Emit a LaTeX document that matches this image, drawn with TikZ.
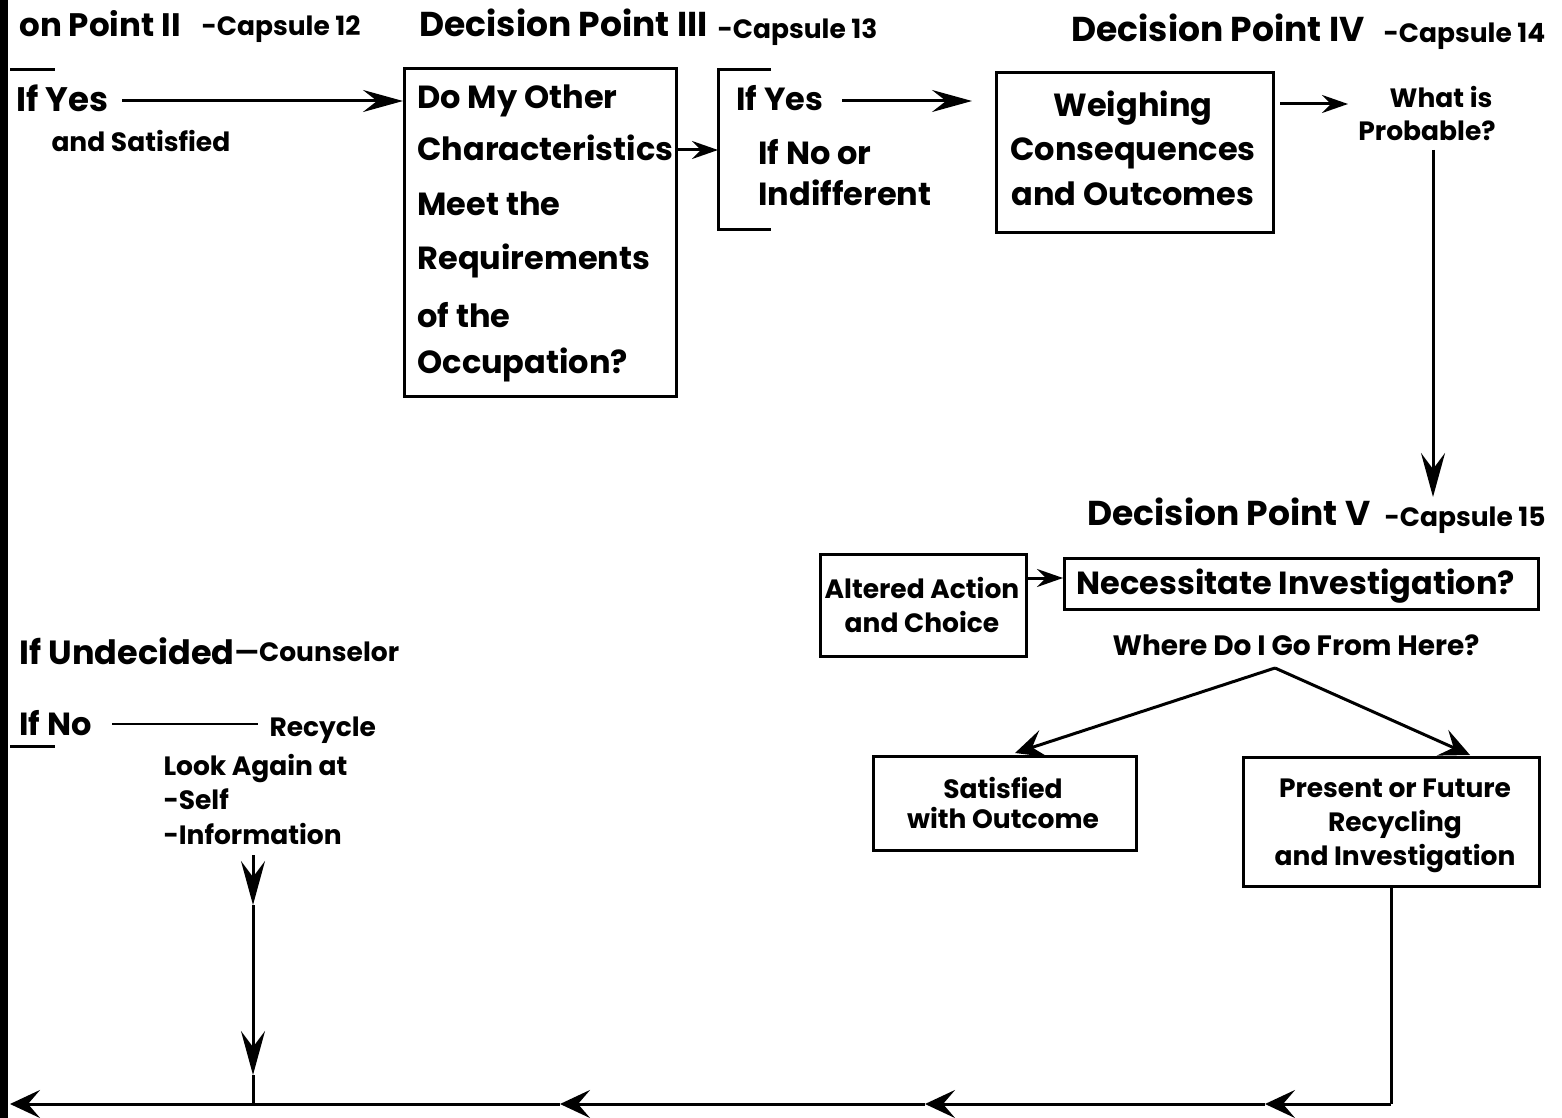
\documentclass[tikz,border=0pt]{standalone}
\usepackage{fontspec}
\setmainfont{Poppins}
\usetikzlibrary{arrows.meta}
\begin{document}
\begin{tikzpicture}[x=1pt,y=-1pt,line width=3pt,
  big/.style={font=\fontsize{32}{36}\selectfont\bfseries,inner sep=0pt},
  head/.style={font=\fontsize{34.5}{38}\selectfont\bfseries,inner sep=0pt},
  med/.style={font=\fontsize{26.5}{30}\selectfont\bfseries,inner sep=0pt},
  box/.style={draw,line width=2.6pt,inner sep=0pt},
  tipL/.style={-{Stealth[length=40pt,width=22pt,inset=14pt]}},
  tipS/.style={-{Stealth[length=26pt,width=18pt,inset=9pt]}},
  tipB/.style={-{Stealth[length=30pt,width=28pt,inset=12pt]}},
  tipV/.style={-{Stealth[length=44pt,width=24pt,inset=16pt]}},
]
\useasboundingbox (0,0) rectangle (1562,1118);
\fill[black] (0,0) rectangle (8,1118);

% headers
\node[head,anchor=base west,font=\fontsize{32.5}{36}\selectfont\bfseries] (h2) at (18,37) {on Point II};
\node[med,anchor=base west] (c12) at (200,36) {-Capsule 12};
\node[head,anchor=base west] (h3) at (418,37) {Decision Point III};
\node[med,anchor=base west] (c13) at (716,39) {-Capsule 13};
\node[head,anchor=base west] (h4) at (1070,42) {Decision Point IV};
\node[med,anchor=base west] (c14) at (1382,43) {-Capsule 14};
\node[head,anchor=base west] (h5) at (1086,525) {Decision Point V};
\node[med,anchor=base west] (c15) at (1383,526) {-Capsule 15};

% left column
\node[big,anchor=base west,font=\fontsize{34}{38}\selectfont\bfseries] (ifyes1) at (15,112) {If Yes};
\node[med,anchor=base west] (andsat) at (50,152) {and Satisfied};
\draw (10,70) -- (55,70);
\node[big,anchor=base west,font=\fontsize{33.5}{38}\selectfont\bfseries] (undec) at (18,664) {If Undecided};
\node[med,anchor=base west] (couns) at (233,661) {—Counselor};
\node[big,anchor=base west] (ifno) at (18,735) {If No};
\draw (10,746) -- (55,746);
\node[med,anchor=base west] (recyc) at (268,736) {Recycle};
\node[med,anchor=base west] (look) at (162,775) {Look Again at};
\node[med,anchor=base west] (self) at (162,809) {-Self};
\node[med,anchor=base west] (info) at (162,844) {-Information};

% question box
\node[box,minimum width=272pt,minimum height=328pt,anchor=north west] (q3box) at (403,67) {};
\node[big,anchor=base west] (q1) at (416,109) {Do My Other};
\node[big,anchor=base west] (q2) at (416,161) {Characteristics};
\node[big,anchor=base west] (q3) at (416,215) {Meet the};
\node[big,anchor=base west] (q4) at (416,269) {Requirements};
\node[big,anchor=base west] (q5) at (416,327) {of the};
\node[big,anchor=base west] (q6) at (416,373) {Occupation?};

% bracket
\coordinate (brT) at (771,70);
\coordinate (brB) at (771,229);
\draw (brT) -- (718,70) -- (718,229) -- (brB);
\coordinate (brIn) at (718,150);
\node[big,anchor=base west] (ifyes2) at (735,111) {If Yes};
\node[big,anchor=base west] (ifnoor) at (757,165) {If No or};
\node[big,anchor=base west] (indiff) at (757,205) {Indifferent};

% weighing
\node[box,minimum width=277pt,minimum height=160pt,anchor=north west] (weigh) at (995,71) {};
\node[big,anchor=base] (w1) at (1133,117) {Weighing};
\node[big,anchor=base] (w2) at (1133,161) {Consequences};
\node[big,anchor=base] (w3) at (1133,205) {and Outcomes};
\node[med,anchor=base] (what) at (1441,108) {What is};
\node[med,anchor=base] (prob) at (1427,141) {Probable?};

% decision V
\node[box,minimum width=206pt,minimum height=102pt,anchor=north west] (alt) at (819,553) {};
\node[med,anchor=base] (alt1) at (922,598) {Altered Action};
\node[med,anchor=base] (alt2) at (922,632) {and Choice};
\node[box,minimum width=474pt,minimum height=51pt,anchor=north west] (nec) at (1063,557) {};
\node[big,anchor=base west] (nect) at (1075,594) {Necessitate Investigation?};
\node[med,anchor=base,font=\fontsize{28}{32}\selectfont\bfseries] (where) at (1296,655) {Where Do I Go From Here?};
\coordinate (apex) at (1275,668);

\node[box,minimum width=263pt,minimum height=94pt,anchor=north west] (sat) at (872,755) {};
\node[med,anchor=base] (sat1) at (1003,798) {Satisfied};
\node[med,anchor=base] (sat2) at (1003,828) {with Outcome};
\node[box,minimum width=296pt,minimum height=129pt,anchor=north west] (pres) at (1242,756) {};
\node[med,anchor=base] (p1) at (1395,797) {Present or Future};
\node[med,anchor=base] (p2) at (1395,831) {Recycling};
\node[med,anchor=base] (p3) at (1395,865) {and Investigation};

% connectors
\coordinate (a1s) at (122,101);
\draw[tipL] (a1s) -- (a1s -| q3box.west);
\draw[tipS] (q3box.east |- brIn) -- (brIn);
\coordinate (a2s) at (842,101);
\coordinate (a2e) at (972,101);
\draw[tipL] (a2s) -- (a2e);
\coordinate (a3s) at (1280,104);
\coordinate (a3e) at (1348,104);
\draw[tipS] (a3s) -- (a3e);
\coordinate (vs) at (1433,150);
\coordinate (ve) at (1433,497);
\draw[tipV] (vs) -- (ve);
\draw[tipS] (alt.east |- 0,578) -- (nec.west |- 0,578);
\draw[tipB] (apex) -- (1015,753);
\draw[tipB] (apex) -- (1470,755);
\coordinate (nos) at (112,724);
\coordinate (noe) at (258,724);
\draw[line width=2.4pt] (nos) -- (noe);

% recycle loop
\coordinate (pb) at (1391,885);
\coordinate (corner) at (1391,1104);
\coordinate (m1) at (1265,1104);
\coordinate (m2) at (925,1104);
\coordinate (m3) at (560,1104);
\coordinate (join) at (253,1104);
\coordinate (lend) at (10,1104);
\draw (pb) -- (corner);
\draw[tipB] (corner) -- (m1);
\draw[tipB] (m1) -- (m2);
\draw[tipB] (m2) -- (m3);
\draw[tipB] (m3) -- (lend);
\coordinate (is) at (253,855);
\coordinate (iv1) at (253,905);
\coordinate (iv2) at (253,1075);
\draw[tipV] (is) -- (iv1);
\draw[tipV] (iv1) -- (iv2);
\draw (iv2) -- (join);
\end{tikzpicture}
\end{document}
